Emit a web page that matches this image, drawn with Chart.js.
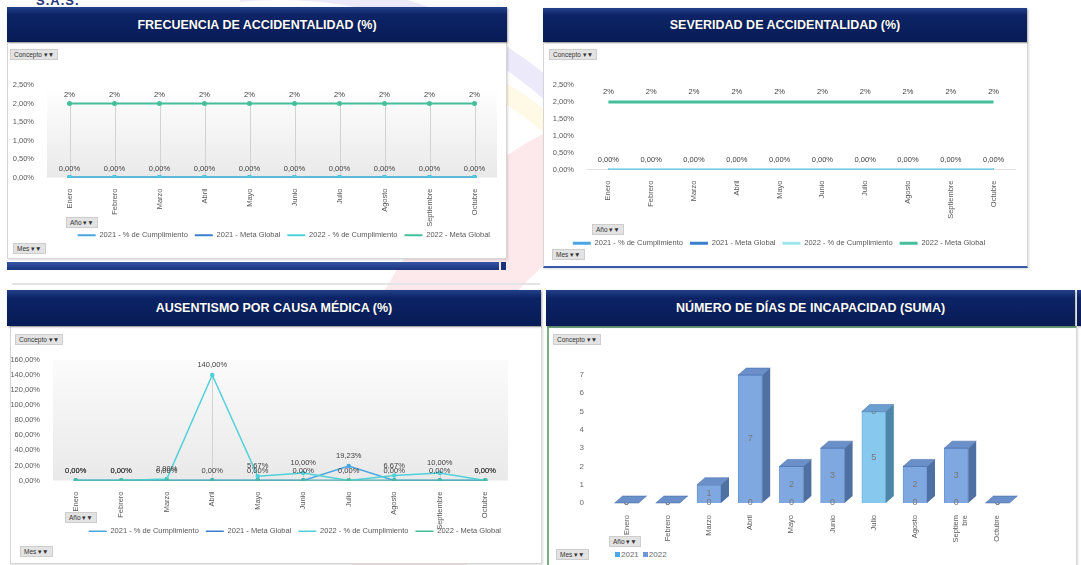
<!DOCTYPE html>
<html lang="es">
<head>
<meta charset="utf-8">
<title>Indicadores SST</title>
<script src="https://cdn.jsdelivr.net/npm/chart.js@4.4.1/dist/chart.umd.min.js"></script>
<style>
  html, body { margin: 0; padding: 0; }
  body {
    width: 1081px; height: 565px; position: relative; overflow: hidden;
    background: #fff; font-family: "Liberation Sans", Arial, sans-serif;
  }
  .logo { position: absolute; left: 240px; top: 0; width: 370px; height: 565px; overflow: hidden; z-index: 0; }
  .ring { position: absolute; border-radius: 50%; border-style: solid; }
  .head {
    position: absolute; z-index: 2; color: #fff; font-weight: bold; font-size: 12.5px;
    display: flex; align-items: center; justify-content: center;
    background: linear-gradient(#23408a 0%, #0c2466 22%, #071b56 100%);
    box-shadow: 1px 1px 2px rgba(0,0,0,.35);
    text-shadow: 0 0 1px rgba(0,0,0,.5);
  }
  .body {
    position: absolute; z-index: 1; background: #fff;
    border: 1px solid #d6d6d6; box-shadow: 1px 1px 2px rgba(0,0,0,.15);
  }
  .btn {
    position: absolute; z-index: 3; background: #e3e3e3; border: 1px solid #cdcdcd;
    font-size: 6.5px; color: #333; padding: 0 3px; line-height: 9px; white-space: nowrap;
  }
  .box { position: absolute; z-index: 2; }
  .leyenda { position: absolute; z-index: 3; font-size: 8px; color: #6b6b6b; white-space: nowrap; }
  .leyenda span.c { display: inline-block; width: 5px; height: 5px; margin: 0 1px 0 4px; }
</style>
</head>
<body>

<!-- logo de fondo -->
<div class="logo">
  <div class="ring" style="left:-380px;top:-20px;width:800px;height:800px;border-width:20px;border-color:rgba(120,110,220,.15);"></div>
  <div class="ring" style="left:-335px;top:25px;width:754px;height:754px;border-width:18px;border-color:rgba(255,215,80,.15);"></div>
  <div class="ring" style="left:100px;top:90px;width:540px;height:540px;border-width:110px;border-color:rgba(240,70,90,.12);"></div>
</div>
<div style="position:absolute;left:36px;top:-7px;font-size:13px;font-weight:bold;color:#24357a;letter-spacing:1px;">S.A.S.</div>

<!-- Panel 1 -->
<div class="body" style="left:7px;top:42px;width:498px;height:215px;"></div>
<div class="head" style="left:7px;top:7px;width:500px;height:35px;">FRECUENCIA DE ACCIDENTALIDAD (%)</div>
<div style="position:absolute;z-index:2;left:7px;top:262px;width:492px;height:8px;background:linear-gradient(#3455a5,#1a347c);"></div>
<div style="position:absolute;z-index:2;left:501px;top:262px;width:5px;height:8px;background:#1a347c;"></div>
<div class="btn" style="left:10px;top:49px;">Concepto ▾▼</div>
<div class="btn" style="left:66px;top:217px;">Año ▾▼</div>
<div class="btn" style="left:13px;top:243px;">Mes ▾▼</div>
<div class="box" style="left:7px;top:66px;width:500px;height:183px;"><canvas id="frecuencia"></canvas></div>

<!-- Panel 2 -->
<div class="body" style="left:543px;top:42px;width:483px;height:223px;border-bottom:2px solid #3a5aa8;"></div>
<div class="head" style="left:543px;top:8px;width:484px;height:34px;">SEVERIDAD DE ACCIDENTALIDAD (%)</div>
<div class="btn" style="left:549px;top:49px;">Concepto ▾▼</div>
<div class="btn" style="left:592px;top:224px;">Año ▾▼</div>
<div class="btn" style="left:552px;top:249px;">Mes ▾▼</div>
<div class="box" style="left:543px;top:67px;width:484px;height:190px;"><canvas id="severidad"></canvas></div>

<!-- Panel 3 -->
<div style="position:absolute;z-index:1;left:12px;top:283px;width:528px;height:2px;background:#e4e4e4;"></div>
<div class="body" style="left:10px;top:326px;width:530px;height:236px;"></div>
<div class="head" style="left:7px;top:290px;width:534px;height:36px;">AUSENTISMO POR CAUSA MÉDICA (%)</div>
<div class="btn" style="left:15px;top:334px;">Concepto ▾▼</div>
<div class="btn" style="left:65px;top:512px;">Año ▾▼</div>
<div class="btn" style="left:20px;top:546px;">Mes ▾▼</div>
<div class="box" style="left:8px;top:340px;width:533px;height:205px;"><canvas id="ausentismo"></canvas></div>

<!-- Panel 4 -->
<div class="body" style="left:547px;top:326px;width:527px;height:240px;border-left:2px solid #78b086;border-top:2px solid #78b086;"></div>
<div class="head" style="left:546px;top:290px;width:529px;height:36px;">NÚMERO DE DÍAS DE INCAPACIDAD (SUMA)</div>
<div class="head" style="left:1077px;top:290px;width:10px;height:36px;"></div>
<div class="btn" style="left:553px;top:334px;">Concepto ▾▼</div>
<div class="btn" style="left:609px;top:536px;">Año ▾▼</div>
<div class="btn" style="left:556px;top:549px;">Mes ▾▼</div>
<div class="box" style="left:548px;top:345px;width:527px;height:200px;"><canvas id="incapacidad"></canvas></div>
<div class="leyenda" id="leyendaIncapacidad" style="left:611px;top:550px;"></div>

<script>
// ---- datos ----
const meses = ['Enero', 'Febrero', 'Marzo', 'Abril', 'Mayo', 'Junio', 'Julio', 'Agosto', 'Septiembre', 'Octubre'];
const mesesBarras = ['Enero', 'Febrero', 'Marzo', 'Abril', 'Mayo', 'Junio', 'Julio', 'Agosto', ['Septiem', 'bre'], 'Octubre'];
const series = ['2021 - % de Cumplimiento', '2021 - Meta Global', '2022 - % de Cumplimiento', '2022 - Meta Global'];
const anios = ['2021', '2022'];

// Frecuencia de accidentalidad (%)
const frec2021Cumpl = [0, 0, 0, 0, 0, 0, 0, 0, 0, 0];
const frec2021Meta  = [0, 0, 0, 0, 0, 0, 0, 0, 0, 0];
const frec2022Cumpl = [0, 0, 0, 0, 0, 0, 0, 0, 0, 0];
const frec2022Meta  = [2, 2, 2, 2, 2, 2, 2, 2, 2, 2];
const frecTicks = [0, 0.5, 1, 1.5, 2, 2.5];

// Severidad de accidentalidad (%)
const sev2021Cumpl = [0, 0, 0, 0, 0, 0, 0, 0, 0, 0];
const sev2021Meta  = [0, 0, 0, 0, 0, 0, 0, 0, 0, 0];
const sev2022Cumpl = [0, 0, 0, 0, 0, 0, 0, 0, 0, 0];
const sev2022Meta  = [2, 2, 2, 2, 2, 2, 2, 2, 2, 2];

// Ausentismo por causa médica (%)
const aus2021Cumpl = [0, 0, 0, 0, 0, 0, 19.23, 0, 0, 0];
const aus2021Meta  = [0, 0, 0, 0, 0, 0, 0, 0, 0, 0];
const aus2022Cumpl = [0, 0, 2, 140, 5.67, 10, 0, 6.67, 10, 0];
const aus2022Meta  = [0, 0, 0, 0, 0, 0, 0, 0, 0, 0];
const ausTicks = [0, 20, 40, 60, 80, 100, 120, 140, 160];

// Número de días de incapacidad (suma)
const dias2021 = [0, 0, 0, 0, 0, 0, 5, 0, 0, 0];
const dias2022 = [0, 0, 1, 7, 2, 3, 0, 2, 3, 0];

// ---- colores ----
const colores = {
  c2021Cumpl: '#4aa6e2',
  c2021Meta:  '#3a7fcf',
  c2022Cumpl: '#4fd0da',
  c2022Meta:  '#45bf9a',
  texto:      '#595959',
  caida:      '#d2d2d2',
};
const fuente = '"Liberation Sans", Arial, sans-serif';

const pct = (v, dec) => v.toFixed(dec).replace('.', ',') + '%';

/* ─── plugins propios ─── */
const fondoArea = {
  id: 'fondoArea',
  beforeDraw(chart, args, opts) {
    if (!opts.show) return;
    const { ctx, chartArea: a } = chart;
    const g = ctx.createLinearGradient(0, a.top, 0, a.bottom);
    g.addColorStop(0, '#ffffff');
    g.addColorStop(opts.start || 0, '#fbfbfb');
    g.addColorStop(1, '#e9e9e9');
    ctx.save();
    ctx.fillStyle = g;
    ctx.fillRect(a.left, a.top, a.right - a.left, a.bottom - a.top);
    ctx.restore();
  }
};

const lineasCaida = {
  id: 'lineasCaida',
  beforeDatasetsDraw(chart, args, opts) {
    if (!opts.show) return;
    const { ctx, chartArea } = chart;
    ctx.save();
    ctx.strokeStyle = colores.caida;
    ctx.lineWidth = 1;
    chart.data.labels.forEach((_, j) => {
      let x = null, top = chartArea.bottom;
      chart.data.datasets.forEach((ds, i) => {
        const p = chart.getDatasetMeta(i).data[j];
        if (p && ds.data[j] != null) { x = p.x; top = Math.min(top, p.y); }
      });
      if (x === null) return;
      ctx.beginPath();
      ctx.moveTo(Math.round(x) + 0.5, top);
      ctx.lineTo(Math.round(x) + 0.5, chartArea.bottom);
      ctx.stroke();
    });
    ctx.restore();
  }
};

const etiquetas = {
  id: 'etiquetas',
  afterDatasetsDraw(chart, args, opts) {
    if (!opts.show) return;
    const ctx = chart.ctx;
    ctx.save();
    ctx.font = opts.font;
    ctx.fillStyle = opts.color;
    ctx.textAlign = 'center';
    ctx.textBaseline = 'middle';
    chart.data.datasets.forEach((ds, i) => {
      if (!ds.etiqueta) return;
      chart.getDatasetMeta(i).data.forEach((el, j) => {
        const v = ds.data[j];
        if (v == null) return;
        const y = opts.centro ? (el.y + el.base) / 2 : el.y - opts.offset;
        ctx.fillText(ds.etiqueta(v), el.x, y);
      });
    });
    ctx.restore();
  }
};

const barras3d = {
  id: 'barras3d',
  afterDatasetsDraw(chart, args, opts) {
    if (!opts.show) return;
    const { ctx } = chart;
    const dx = opts.dx, dy = opts.dy;
    ctx.save();
    chart.data.labels.forEach((_, j) => {
      let tope = null, topeDs = chart.data.datasets[chart.data.datasets.length - 1];
      chart.data.datasets.forEach((ds, i) => {
        const el = chart.getDatasetMeta(i).data[j];
        const r = el.x + el.width / 2;
        if (el.base - el.y > 0.5) {
          ctx.fillStyle = ds.lado;
          ctx.beginPath();
          ctx.moveTo(r, el.y);
          ctx.lineTo(r + dx, el.y - dy);
          ctx.lineTo(r + dx, el.base - dy);
          ctx.lineTo(r, el.base);
          ctx.closePath();
          ctx.fill();
          if (tope === null || el.y < tope.y) { tope = el; topeDs = ds; }
        }
        if (tope === null) tope = el;
      });
      const l = tope.x - tope.width / 2, r = tope.x + tope.width / 2, y = tope.y;
      ctx.fillStyle = topeDs.techo;
      ctx.strokeStyle = 'rgba(60,100,160,.6)';
      ctx.lineWidth = 0.8;
      ctx.beginPath();
      ctx.moveTo(l, y);
      ctx.lineTo(l + dx, y - dy);
      ctx.lineTo(r + dx, y - dy);
      ctx.lineTo(r, y);
      ctx.closePath();
      ctx.fill();
      ctx.stroke();
    });
    ctx.restore();
  }
};

/* ─── gráfico de líneas ─── */
function crearLineas(id, cfg) {
  const ds = (label, data, color, orden, etiqueta) => ({
    label, data, order: orden,
    borderColor: color, backgroundColor: color,
    borderWidth: cfg.grosor, tension: 0,
    pointRadius: cfg.puntos ? 1.5 : 0, pointHoverRadius: 0,
    etiqueta,
  });
  return new Chart(document.getElementById(id), {
    type: 'line',
    plugins: [fondoArea, lineasCaida, etiquetas],
    data: {
      labels: meses,
      datasets: [
        ds(series[0], cfg.d2021Cumpl, colores.c2021Cumpl, 3, cfg.etq2021),
        ds(series[1], cfg.d2021Meta, colores.c2021Meta, 2, null),
        ds(series[2], cfg.d2022Cumpl, cfg.color2022Cumpl || colores.c2022Cumpl, 1, cfg.etqCumpl),
        ds(series[3], cfg.d2022Meta, colores.c2022Meta, 0, cfg.etqMeta),
      ]
    },
    options: {
      responsive: true,
      maintainAspectRatio: false,
      animation: false,
      layout: { padding: cfg.padding },
      plugins: {
        legend: {
          position: 'bottom',
          align: cfg.alinLeyenda,
          labels: {
            usePointStyle: true, pointStyle: 'line', pointStyleWidth: 18,
            color: colores.texto, font: { family: fuente, size: 7.5 }, padding: 7,
            sort: (a, b) => a.datasetIndex - b.datasetIndex,
          }
        },
        tooltip: { enabled: false },
        fondoArea: { show: cfg.fondo, start: cfg.fondoInicio },
        lineasCaida: { show: cfg.caida },
        etiquetas: { show: true, font: '7.5px ' + fuente, color: '#404040', offset: cfg.offsetEtq },
      },
      scales: {
        x: {
          offset: true,
          grid: { display: false },
          border: { display: cfg.ejeX, color: '#e2e2e2' },
          ticks: { color: colores.texto, font: { family: fuente, size: 7.5 }, maxRotation: 90, minRotation: 90, padding: 3, autoSkip: false },
          afterFit: s => {
            s.height = cfg.altoX;
            // las etiquetas largas pueden pasar por debajo de la leyenda, como en Excel
            s._computeLabelArea = () => null;
          },
        },
        y: {
          min: cfg.ticks[0], max: cfg.ticks[cfg.ticks.length - 1],
          grid: { display: false },
          border: { display: false },
          afterBuildTicks: s => { s.ticks = cfg.ticks.map(v => ({ value: v })); },
          ticks: { color: colores.texto, font: { family: fuente, size: 7.5 }, padding: 5, callback: v => pct(v, 2) },
          afterFit: s => { s.width = cfg.anchoY; },
        }
      }
    }
  });
}

crearLineas('frecuencia', {
  d2021Cumpl: frec2021Cumpl, d2021Meta: frec2021Meta, d2022Cumpl: frec2022Cumpl, d2022Meta: frec2022Meta,
  etq2021: null, etqCumpl: v => pct(v, 2), etqMeta: v => pct(v, 0),
  ticks: frecTicks, grosor: 2, puntos: true, fondo: true, fondoInicio: 0.2, caida: true, ejeX: false,
  padding: { top: 19, right: 10, left: 0, bottom: 0 }, anchoY: 40, altoX: 47, offsetEtq: 9, alinLeyenda: 'end',
});

crearLineas('severidad', {
  d2021Cumpl: sev2021Cumpl, d2021Meta: sev2021Meta, d2022Cumpl: sev2022Cumpl, d2022Meta: sev2022Meta,
  etq2021: null, etqCumpl: v => pct(v, 2), etqMeta: v => pct(v, 0),
  ticks: frecTicks, grosor: 3, puntos: false, fondo: false, caida: false, ejeX: true,
  color2022Cumpl: '#9ee6ee',
  padding: { top: 18, right: 12, left: 0, bottom: 0 }, anchoY: 44, altoX: 63, offsetEtq: 10, alinLeyenda: 'center',
});

crearLineas('ausentismo', {
  d2021Cumpl: aus2021Cumpl, d2021Meta: aus2021Meta, d2022Cumpl: aus2022Cumpl, d2022Meta: aus2022Meta,
  etq2021: v => pct(v, 2), etqCumpl: v => pct(v, 2), etqMeta: null,
  ticks: ausTicks, grosor: 1.5, puntos: true, fondo: true, fondoInicio: 0, caida: true, ejeX: false,
  padding: { top: 20, right: 33, left: 0, bottom: 0 }, anchoY: 45, altoX: 40, offsetEtq: 10, alinLeyenda: 'end',
});

/* ─── gráfico de barras 3D ─── */
new Chart(document.getElementById('incapacidad'), {
  type: 'bar',
  plugins: [etiquetas, barras3d],
  data: {
    labels: mesesBarras,
    datasets: [
      { label: anios[0], data: dias2021, backgroundColor: '#86c8ee', borderColor: '#6fb3e0', borderWidth: 1,
        lado: '#4d86a8', techo: '#6a9fd0', etiqueta: v => String(v) },
      { label: anios[1], data: dias2022, backgroundColor: '#80a8e0', borderColor: '#6a96d4', borderWidth: 1,
        lado: '#4f70a2', techo: '#6b8fc8', etiqueta: v => String(v) },
    ]
  },
  options: {
    responsive: true,
    maintainAspectRatio: false,
    animation: false,
    layout: { padding: { top: 30, right: 57, left: 0, bottom: 0 } },
    datasets: { bar: { barThickness: 24 } },
    plugins: {
      legend: { display: false },
      tooltip: { enabled: false },
      etiquetas: { show: true, centro: true, font: '9px ' + fuente, color: '#777' },
      barras3d: { show: true, dx: 8, dy: 7 },
    },
    scales: {
      x: {
        stacked: true,
        grid: { display: false },
        border: { display: false },
        ticks: { color: colores.texto, font: { family: fuente, size: 7.5 }, maxRotation: 90, minRotation: 90, padding: 4, autoSkip: false },
        afterFit: s => { s.height = 42; },
      },
      y: {
        stacked: true,
        min: 0, max: 7,
        grid: { display: false },
        border: { display: false },
        ticks: { stepSize: 1, color: '#6b6b6b', font: { family: fuente, size: 8 }, padding: 14 },
        afterFit: s => { s.width = 58; },
      }
    }
  }
});

// leyenda del gráfico de barras
document.getElementById('leyendaIncapacidad').innerHTML =
  '<span class="c" style="background:#4aa8e6"></span>' + anios[0] +
  '<span class="c" style="background:#6f97d6"></span>' + anios[1];
</script>
</body>
</html>
